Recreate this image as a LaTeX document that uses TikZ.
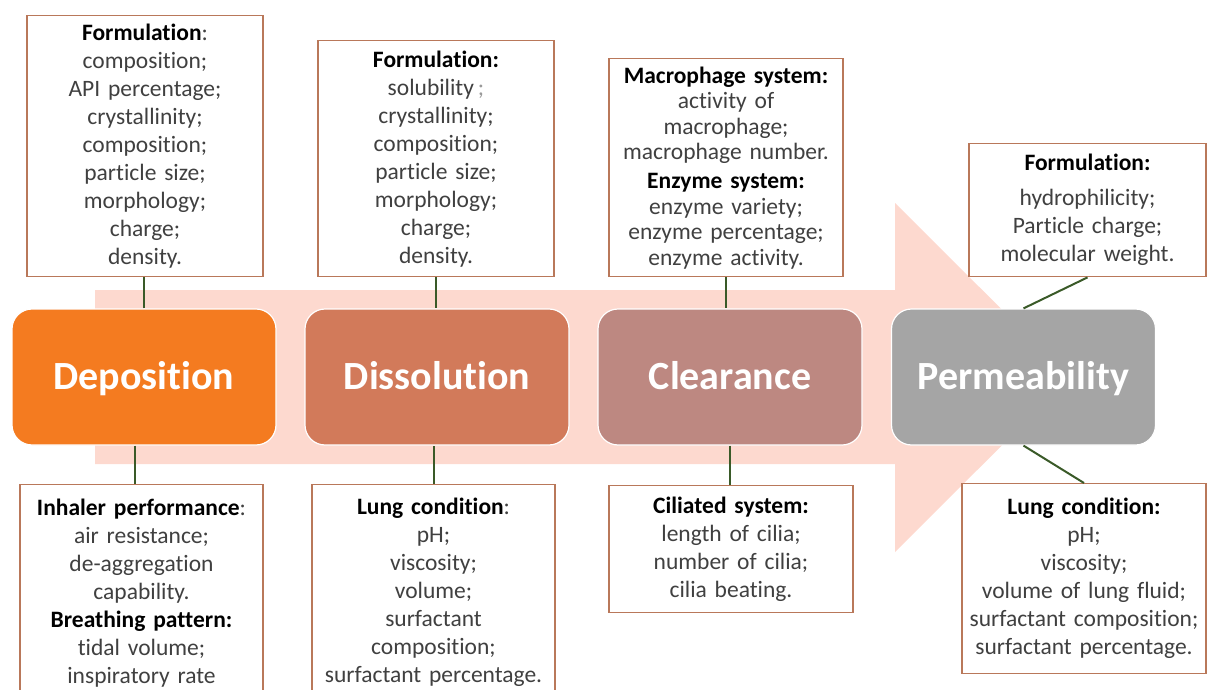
\documentclass[tikz,border=0pt]{standalone}
\usepackage{fontspec}
\setmainfont{Carlito}[Ligatures=NoCommon]
\usetikzlibrary{positioning}
\definecolor{depoC}{HTML}{F47B20}
\definecolor{dissC}{HTML}{D27A5A}
\definecolor{clearC}{HTML}{BD8881}
\definecolor{permC}{HTML}{A5A5A5}
\definecolor{flow}{HTML}{FDD9CF}
\definecolor{frame}{HTML}{B9785A}
\definecolor{wireC}{HTML}{3A5A28}
\definecolor{body}{HTML}{404040}
\newcommand{\facet}[1]{{\color{black}\bfseries #1}}

\begin{document}
\begin{tikzpicture}[x=1pt,y=-1pt,
  stage/.style={rounded corners=20pt,draw=white,line width=1.2pt,
    minimum width=264pt,minimum height=136pt,text=white,
    text height=32pt,text depth=8pt,
    font=\fontsize{40}{48}\selectfont\bfseries},
  info/.style={draw=frame,line width=1.4pt,fill=white,align=center,
    inner sep=2pt,anchor=north,text=body,
    font=\fontsize{23.5}{28}\selectfont},
  wire/.style={wireC,line width=2pt}]
 \useasboundingbox (0,0) rectangle (1210,690);
 \fill[flow] (95,290) -- (895,290) -- (895,203) -- (1070,377.5)
   -- (895,552) -- (895,464) -- (95,464) -- cycle;
 \node[stage,fill=depoC] (Depo) at (144,377) {Deposition};
 \node[stage,fill=dissC] (Diss) at (437,377) {Dissolution};
 \node[stage,fill=clearC] (Clear) at (730,377) {Clearance};
 \node[stage,fill=permC] (Perm) at (1023.5,377) {Permeability};
 \node[info,text width=232pt,minimum height=261pt] (DepoUp) at (145,15)
 {\facet{Formulation}:\\ composition;\\ API percentage;\\ crystallinity;\\
  composition;\\ particle size;\\ morphology;\\ charge;\\ density.};
 \node[info,text width=232pt,minimum height=236pt] (DissUp) at (436,40)
 {\facet{Formulation:}\\ solubility\,{\color{black!40};}\\ crystallinity;\\
  composition;\\ particle size;\\ morphology;\\ charge;\\ density.};
 \node[info,text width=230pt,minimum height=218pt,
       font=\fontsize{23.5}{25.5}\selectfont] (ClearUp) at (726,58)
 {\facet{Macrophage system:}\\ activity of\\ macrophage;\\ macrophage number.\\[3.5pt]
  \facet{Enzyme system:}\\ enzyme variety;\\ enzyme percentage;\\ enzyme activity.};
 \node[info,text width=233pt,minimum height=133pt] (PermUp) at (1087.5,143)
 {\facet{Formulation:}\\[7pt] hydrophilicity;\\ Particle charge;\\ molecular weight.};
 \node[info,text width=239pt,minimum height=216pt] (DepoDown) at (141.5,484)
 {\facet{Inhaler performance}:\\ air resistance;\\ de-aggregation\\ capability.\\
  \facet{Breathing pattern:}\\ tidal volume;\\ inspiratory rate};
 \node[info,text width=239pt,minimum height=216pt] (DissDown) at (433.5,484)
 {\facet{Lung condition}:\\ pH;\\ viscosity;\\ volume;\\ surfactant\\
  composition;\\ surfactant percentage.};
 \node[info,text width=240pt,minimum height=127pt] (ClearDown) at (731,485)
 {\facet{Ciliated system:}\\ length of cilia;\\ number of cilia;\\ cilia beating.};
 \node[info,text width=240pt,minimum height=190pt] (PermDown) at (1084,483)
 {\facet{Lung condition:}\\ pH;\\ viscosity;\\ volume of lung fluid;\\
  surfactant composition;\\ surfactant percentage.};
 \draw[wire] (Depo.north) -- (Depo.north |- DepoUp.south);
 \draw[wire] (DissUp.south) -- (DissUp.south |- Diss.north);
 \draw[wire] (ClearUp.south) -- (ClearUp.south |- Clear.north);
 \draw[wire] (PermUp.south) -- (Perm.north);
 \draw[wire] ([xshift=-9pt]Depo.south) -- ([xshift=-9pt]Depo.south |- DepoDown.north);
 \draw[wire] (DissDown.north) -- (DissDown.north |- Diss.south);
 \draw[wire] (Clear.south) -- (Clear.south |- ClearDown.north);
 \draw[wire] (Perm.south) -- (PermDown.north);
\end{tikzpicture}
\end{document}
